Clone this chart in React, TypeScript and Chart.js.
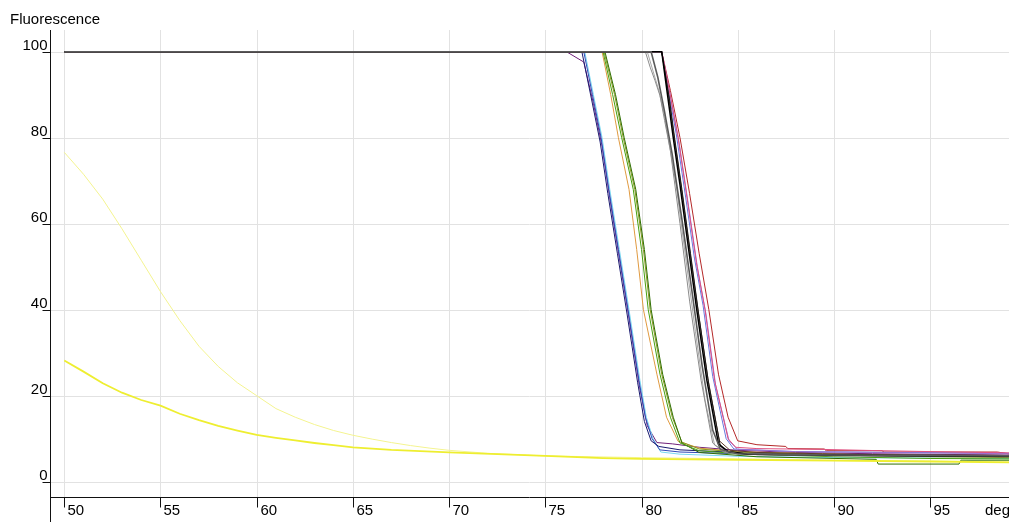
import React, { useEffect, useRef } from "react";
import { Chart, registerables } from "chart.js";

Chart.register(...registerables);

type P = [number, number];

// ---- tick labels ----
const xTickValues = [50, 55, 60, 65, 70, 75, 80, 85, 90, 95];
const yTickValues = [0, 20, 40, 60, 80, 100];
const yAxisTitle = "Fluorescence";
const xAxisTitle = "deg";

// ---- series: [temperature, fluorescence] ----
const yellowLight: P[] = [[50,76.6],[51,71.5],[52,65.7],[53,58.8],[54,51.5],[55,44.2],[56,37.5],[57,31.5],[58,26.8],[59,23],[60,20],[61,17],[62,15],[63,13.3],[64,11.9],[65,10.8],[66,9.9],[67,9.1],[68,8.4],[69,7.8],[70,7.3],[72,6.6],[75,6.0],[80,5.6],[85,5.3],[90,5.0],[95,4.8],[99.2,4.6]];
const yellowBright: P[] = [[50,28.2],[51,25.6],[52,22.9],[53,20.7],[54,19],[55,17.7],[56,15.8],[57,14.3],[58,13],[59,11.9],[60,10.9],[61,10.2],[62,9.6],[63,9],[64,8.5],[65,8],[67,7.4],[70,6.8],[75,6],[78,5.5],[80,5.3],[85,5.1],[90,4.9],[95,4.7],[99.2,4.5]];

const blueA: P[] = [[50,100],[77.0,100],[77.45,90],[77.9,80],[78.3,68],[78.8,54],[79.3,40],[79.87,23.5],[80.2,15],[80.55,10],[80.95,7.4],[82,6.9],[85,6.5],[90,6.2],[95,6],[99.2,5.9]];
const cyanA: P[] = [[50,100],[77.05,100],[77.5,90],[77.95,80],[78.35,68],[78.85,54],[79.35,40],[79.92,23.5],[80.25,15],[80.6,10],[81.0,6.9],[82,6.4],[85,5.9],[90,5.6],[99.2,5.4]];
const navyA: P[] = [[50,100],[76.9,100],[77.4,89],[77.85,79],[78.25,67],[78.75,53],[79.25,39],[79.8,23],[80.15,14],[80.5,9.5],[80.9,8.2],[82,7.4],[85,6.8],[90,6.3],[99.2,6.0]];
const purpleA: P[] = [[50,100],[76.1,100],[77.0,97.6],[77.5,88],[77.95,78],[78.35,66],[78.85,52],[79.35,38],[79.9,22],[80.3,13],[80.8,9.1],[81.6,8.8],[83,8],[85,7.3],[88,6.8],[92,6.5],[99.2,6.2]];

const greenB: P[] = [[50,100],[78.0,100],[78.5,90],[78.97,80],[79.57,68],[80.0,54],[80.35,40],[80.96,25],[81.5,15],[82.0,9],[83,7.2],[85,6.5],[90,5.8],[95,5.4],[99.2,5.3]];
const oliveB: P[] = [[50,100],[78.05,100],[78.6,90],[79.05,80],[79.65,68],[80.1,54],[80.45,40],[81.05,25],[81.6,15],[82.1,9.2],[83,7.6],[85,6.9],[90,6.2],[95,5.8],[99.2,5.6]];
const orangeB: P[] = [[50,100],[77.95,100],[78.4,90],[78.8,80],[79.35,68],[79.75,54],[80.1,40],[80.8,25],[81.3,15],[81.9,9.4],[83,7.8],[85,7.0],[90,6.4],[95,6.0],[99.2,5.8]];
const darkGreenB: P[] = [[50,100],[78.1,100],[78.65,90],[79.1,80],[79.7,68],[80.15,54],[80.5,40],[81.1,25],[81.65,15],[82.1,9],[83,6.8],[86,5.8],[92.2,5.2],[92.3,4.1],[96.5,4.1],[96.6,5.0],[99.2,5.0]];

const black1: P[] = [[50,100],[81.05,100],[81.35,90],[81.65,80],[82.0,69],[82.45,54],[82.87,40],[83.4,23.5],[84.0,8.8],[84.5,7],[85.5,6.4],[90,6.2],[95,6.0],[99.2,5.9]];
const black2: P[] = [[50,100],[81.05,100],[81.45,89],[81.75,79],[82.1,68],[82.55,53],[82.97,39],[83.5,22.5],[84.1,8.2],[84.6,6.8],[86,6.3],[90,6.1],[99.2,5.8]];
const gray1: P[] = [[50,100],[80.2,100],[80.45,96.4],[80.7,93.3],[80.96,89.8],[81.2,84],[81.5,77],[82.0,60],[82.5,42],[83.1,23.5],[83.7,9],[84.3,6.8],[86,6.3],[90,6],[99.2,5.8]];
const gray2: P[] = [[50,100],[80.3,100],[80.6,95.5],[80.9,91],[81.2,85],[81.5,77],[81.8,69],[82.3,52],[82.8,35],[83.3,19],[83.8,8.5],[84.5,6.7],[88,6.2],[99.2,5.9]];
const gray3: P[] = [[50,100],[80.5,100],[80.85,94],[81.2,86],[81.6,76],[82.1,61],[82.6,45],[83.15,27],[83.7,12],[84.1,7.5],[85,6.5],[90,6.2],[99.2,6.0]];
const pinkC: P[] = [[50,100],[81.05,100],[81.4,92],[81.9,80],[82.4,65],[82.85,51],[83.3,40],[83.8,23.5],[84.5,10],[84.9,8],[86,7.7],[89.5,7.5],[92.5,7.2],[95,7],[99.2,6.7]];
const purpleC: P[] = [[50,100],[81.05,100],[81.45,91],[81.95,79],[82.45,64],[82.9,50],[83.35,39],[83.85,22.5],[84.55,9.5],[85,7.5],[88,7],[92,6.8],[99.2,6.5]];
const blueC: P[] = [[50,100],[81.05,100],[81.35,92],[81.8,81],[82.3,66],[82.75,52],[83.2,41],[83.7,24.5],[84.4,10],[84.8,7.6],[88,7],[99.2,6.6]];
const redC: P[] = [[50,100],[81.05,100],[81.5,91],[82,80],[82.5,67],[83,53],[83.5,40],[84,25],[84.5,15],[85,9.5],[86,8.6],[87.5,8.2],[87.6,7.7],[89.5,7.6],[89.6,7.2],[92.5,7.2],[92.6,6.9],[98.5,6.9],[99.2,6.4]];
const brownC: P[] = [[50,100],[81.05,100],[81.4,90],[81.7,80],[82.05,69],[82.5,54],[82.9,41],[83.45,24],[84.05,9.5],[84.6,7.3],[86,6.8],[89.4,6.5],[92.5,6.3],[99.2,6.1]];

// first entry is drawn on top
const seriesList: { data: P[]; color: string; width: number }[] = [
  { data: yellowBright, color: "#eeee30", width: 1.8 },
  { data: yellowLight, color: "#f4f490", width: 1 },
  { data: gray3, color: "#5a5a5a", width: 1.6 },
  { data: black1, color: "#000000", width: 1.5 },
  { data: gray1, color: "#8c8c8c", width: 1 },
  { data: gray2, color: "#a8a8a8", width: 1 },
  { data: black2, color: "#1a1a1a", width: 1 },
  { data: brownC, color: "#5a3a28", width: 1 },
  { data: pinkC, color: "#e05080", width: 1 },
  { data: purpleC, color: "#9a70d0", width: 1 },
  { data: blueC, color: "#6878e0", width: 1 },
  { data: redC, color: "#b42828", width: 1 },
  { data: greenB, color: "#48a010", width: 1 },
  { data: darkGreenB, color: "#2e6e00", width: 1 },
  { data: oliveB, color: "#8a9a20", width: 1 },
  { data: orangeB, color: "#e09a40", width: 1 },
  { data: navyA, color: "#1a1a70", width: 1 },
  { data: blueA, color: "#3048b8", width: 1 },
  { data: cyanA, color: "#78d8f0", width: 1 },
  { data: purpleA, color: "#70207a", width: 1 },
];

const FONT = "15px 'Liberation Sans', Arial, sans-serif";

const axesPlugin = {
  id: "customAxes",
  beforeDatasetsDraw(chart: any) {
    const { ctx, chartArea, scales } = chart;
    const { left, right, top, bottom } = chartArea;
    ctx.save();
    ctx.strokeStyle = "#e2e2e2";
    ctx.lineWidth = 1;
    xTickValues.forEach((v) => {
      const px = Math.round(scales.x.getPixelForValue(v)) + 0.5;
      ctx.beginPath();
      ctx.moveTo(px, top);
      ctx.lineTo(px, bottom);
      ctx.stroke();
    });
    yTickValues.forEach((v) => {
      const py = Math.round(scales.y.getPixelForValue(v)) + 0.5;
      ctx.beginPath();
      ctx.moveTo(left, py);
      ctx.lineTo(right, py);
      ctx.stroke();
    });
    ctx.restore();
  },
  afterDraw(chart: any) {
    const { ctx, chartArea, scales, height } = chart;
    const { left, right, top, bottom } = chartArea;
    ctx.save();
    ctx.strokeStyle = "#111111";
    ctx.lineWidth = 1;
    const ax = Math.round(left) + 0.5;
    const ay = Math.round(bottom) + 0.5;
    ctx.beginPath();
    ctx.moveTo(ax, top);
    ctx.lineTo(ax, height);
    ctx.moveTo(left, ay);
    ctx.lineTo(right, ay);
    ctx.stroke();

    ctx.fillStyle = "#000000";
    ctx.font = FONT;
    ctx.textAlign = "right";
    ctx.textBaseline = "alphabetic";
    yTickValues.forEach((v) => {
      const py = Math.round(scales.y.getPixelForValue(v)) + 0.5;
      ctx.beginPath();
      ctx.moveTo(ax - 8, py);
      ctx.lineTo(ax, py);
      ctx.stroke();
      ctx.fillText(String(v), ax - 3, py - 3);
    });
    ctx.textAlign = "left";
    xTickValues.forEach((v) => {
      const px = Math.round(scales.x.getPixelForValue(v)) + 0.5;
      ctx.beginPath();
      ctx.moveTo(px, ay);
      ctx.lineTo(px, ay + 10);
      ctx.stroke();
      ctx.fillText(String(v), px + 3, 515);
    });
    ctx.fillText(yAxisTitle, 10, 24);
    ctx.fillText(xAxisTitle, 985, 515);
    ctx.restore();
  },
};

export default function App() {
  const ref = useRef<HTMLCanvasElement | null>(null);
  useEffect(() => {
    if (!ref.current) return;
    const chart = new Chart(ref.current, {
      type: "line",
      data: {
        datasets: seriesList.map((s, i) => ({
          label: "s" + i,
          data: s.data.map(([x, y]) => ({ x, y })),
          borderColor: s.color,
          backgroundColor: s.color,
          borderWidth: s.width,
          pointRadius: 0,
          tension: 0,
          fill: false,
        })),
      },
      options: {
        animation: false,
        responsive: false,
        devicePixelRatio: 1,
        layout: { padding: { left: 50, top: 30, right: 0, bottom: 25 } },
        plugins: { legend: { display: false }, tooltip: { enabled: false } },
        events: [],
        scales: {
          x: { type: "linear", display: false, min: 49.257, max: 99.1 },
          y: { type: "linear", display: false, min: -3.56, max: 105.05 },
        },
      },
      plugins: [axesPlugin],
    });
    return () => chart.destroy();
  }, []);
  return (
    <div style={{ position: "fixed", left: 0, top: 0, width: 1009, height: 522, background: "#fff" }}>
      <canvas ref={ref} width={1009} height={522} style={{ width: 1009, height: 522, display: "block" }} />
    </div>
  );
}
